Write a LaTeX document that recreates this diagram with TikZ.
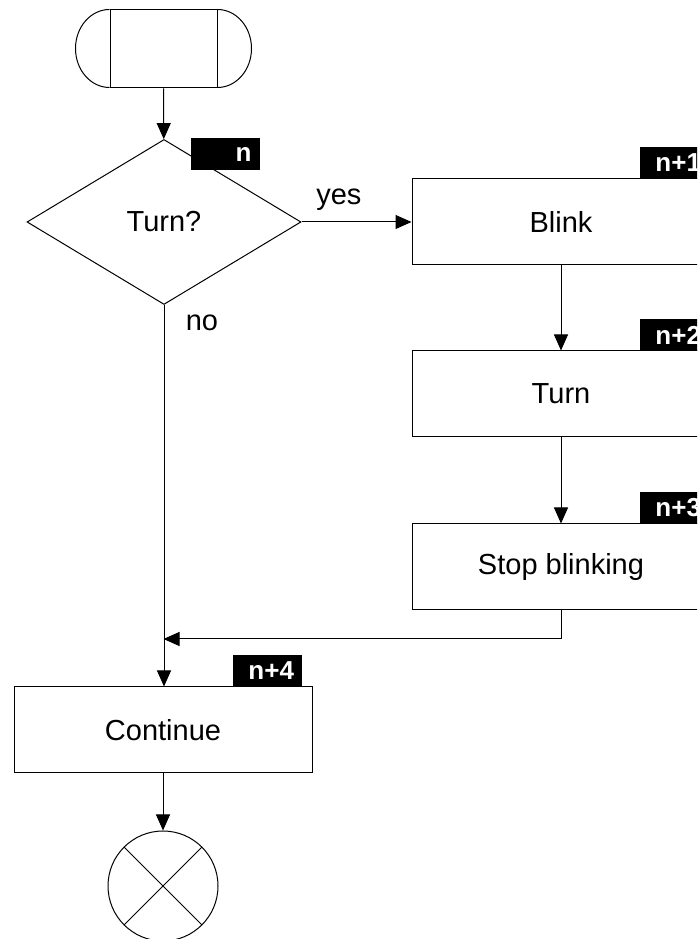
\documentclass[tikz,border=0pt]{standalone}
\usepackage{fontspec}
\setmainfont{Liberation Sans}
\usetikzlibrary{shapes.geometric,arrows.meta}

\begin{document}
\begin{tikzpicture}
    [x=1pt,y=1pt,line width=1pt,
     every node/.style={font=\fontsize{29}{34}\selectfont},
     box/.style={rectangle,draw,minimum width=298pt,minimum height=86pt},
     tag/.style={rectangle,fill=black,text=white,font=\bfseries\fontsize{26}{30}\selectfont,
                 minimum height=32pt,text width=53pt,inner xsep=8pt,inner ysep=0pt,align=right},
     flow/.style={-{Triangle[length=16pt,width=14pt]}}]
    \path[use as bounding box,clip] (0,0) rectangle (697,939);

    \node[rectangle,draw,minimum width=107pt,minimum height=78pt] (start) at (163.5,890) {};
    \draw (start.north east) arc[start angle=90,end angle=-90,x radius=34pt,y radius=39pt];
    \draw (start.north west) arc[start angle=90,end angle=270,x radius=34pt,y radius=39pt];

    \node[diamond,draw,minimum width=274pt,minimum height=165pt,inner sep=0pt] (turnq) at (164,717) {Turn?};
    \node[box] (blink) at (561,717) {Blink};
    \node[box] (turn) at (561,545) {Turn};
    \node[box] (stopb) at (561,372) {Stop blinking};
    \node[box] (cont) at (163,209) {Continue};
    \node[circle,draw,minimum size=110pt,inner sep=0pt] (term) at (163,53) {};
    \draw (term.north west) -- (term.south east);
    \draw (term.north east) -- (term.south west);

    \node[tag] (tn) at (225,784.5) {n};
    \node[tag] (tn1) at (674.5,776) {n+1};
    \node[tag] (tn2) at (674.5,604) {n+2};
    \node[tag] (tn3) at (674.5,431) {n+3};
    \node[tag] (tn4) at (267.5,268) {n+4};

    \coordinate (merge) at (163.5,300);

    \draw[flow] (start) -- (turnq);
    \draw[flow] (turnq.east) -- node[pos=0.34,above=8pt] {yes} (blink.west);
    \draw[flow] (turnq.south) -- node[pos=0.047,right=18pt] {no} (cont.north -| turnq.south);
    \draw[flow] (blink) -- (turn);
    \draw[flow] (turn) -- (stopb);
    \draw[flow] (stopb.south) |- (merge);
    \draw[flow] (cont) -- (term);
  \end{tikzpicture}
\end{document}
